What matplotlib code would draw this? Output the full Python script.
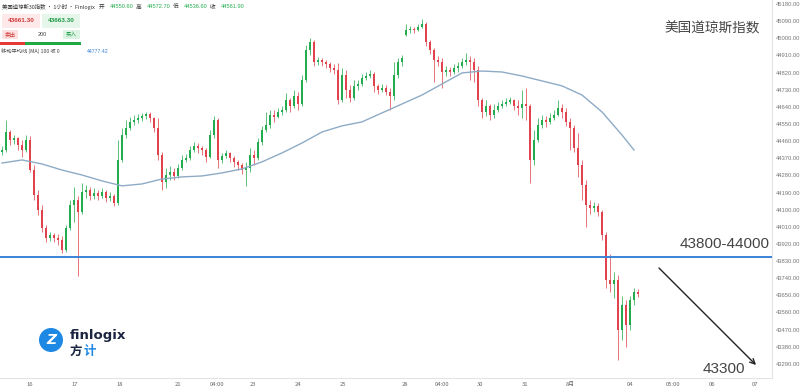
import numpy as np
import matplotlib
matplotlib.use("Agg")
import matplotlib.pyplot as plt
from matplotlib.patches import Rectangle, Ellipse

plt.rcParams['font.family'] = ['Liberation Sans', 'Noto Sans CJK SC', 'DejaVu Sans']

# hourly candles of the Dow (open = previous close)
closes = [44413, 44508, 44466, 44476, 44440, 44413, 44466, 44308, 44177, 44098,
          44004, 43952, 43967, 43952, 43941, 43889, 44004, 44125, 44151, 44088,
          44193, 44204, 44172, 44188, 44172, 44193, 44162, 44172, 44135, 44361,
          44492, 44529, 44561, 44571, 44582, 44592, 44603, 44582, 44529, 44387,
          44246, 44282, 44298, 44277, 44319, 44361, 44372, 44413, 44434, 44424,
          44413, 44377, 44492, 44571, 44361, 44382, 44398, 44372, 44351, 44335,
          44308, 44319, 44387, 44372, 44455, 44518, 44545, 44597, 44587, 44613,
          44624, 44676, 44645, 44697, 44655, 44781, 44939, 44981, 44876, 44886,
          44876, 44865, 44844, 44834, 44676, 44807, 44729, 44687, 44750, 44760,
          44792, 44802, 44813, 44750, 44729, 44739, 44718, 44697, 44807, 44876,
          44897, 45044, 45049, 45044, 45059, 45075, 44981, 44939, 44886, 44876,
          44823, 44834, 44823, 44844, 44855, 44876, 44886, 44876, 44834, 44676,
          44613, 44645, 44597, 44624, 44645, 44655, 44666, 44676, 44645, 44634,
          44655, 44645, 44361, 44466, 44545, 44571, 44561, 44582, 44597, 44634,
          44613, 44561, 44529, 44424, 44335, 44230, 44125, 44109, 44120, 44088,
          43967, 43731, 43710, 43731, 43469, 43600, 43495, 43626, 43668, 43658]
highs = [44434, 44571, 44518, 44492, 44482, 44466, 44492, 44487, 44335, 44203,
         44125, 44020, 43983, 43978, 43973, 43962, 44020, 44151, 44219, 44172,
         44240, 44230, 44219, 44214, 44204, 44214, 44204, 44193, 44183, 44466,
         44529, 44571, 44587, 44597, 44603, 44608, 44613, 44613, 44587, 44582,
         44403, 44319, 44330, 44319, 44340, 44387, 44393, 44434, 44455, 44450,
         44434, 44424, 44518, 44592, 44582, 44398, 44413, 44403, 44382, 44361,
         44345, 44351, 44424, 44413, 44476, 44540, 44613, 44624, 44624, 44634,
         44645, 44713, 44687, 44729, 44718, 44807, 44965, 45002, 44991, 44902,
         44897, 44886, 44876, 44865, 44870, 44844, 44834, 44755, 44781, 44781,
         44813, 44823, 44834, 44823, 44760, 44760, 44755, 44739, 44876, 44897,
         44912, 45075, 45065, 45059, 45075, 45101, 45086, 44991, 44949, 44907,
         44897, 44855, 44849, 44865, 44876, 44897, 44923, 44907, 44897, 44855,
         44687, 44676, 44655, 44655, 44666, 44676, 44687, 44692, 44681, 44676,
         44729, 44739, 44655, 44518, 44582, 44597, 44592, 44608, 44624, 44676,
         44655, 44634, 44582, 44545, 44503, 44361, 44256, 44151, 44141, 44135,
         44098, 43983, 43868, 43773, 43757, 43647, 43626, 43647, 43689, 43684]
lows = [44387, 44403, 44440, 44445, 44413, 44377, 44403, 44298, 44151, 44072,
        43983, 43931, 43936, 43931, 43915, 43873, 43878, 43994, 44036, 43752,
        44078, 44162, 44151, 44156, 44151, 44162, 44141, 44146, 44120, 44125,
        44350, 44476, 44518, 44545, 44555, 44566, 44576, 44561, 44508, 44361,
        44204, 44214, 44256, 44256, 44266, 44308, 44351, 44361, 44403, 44398,
        44387, 44351, 44372, 44476, 44319, 44345, 44372, 44351, 44324, 44308,
        44288, 44225, 44298, 44335, 44361, 44440, 44508, 44529, 44561, 44582,
        44597, 44613, 44613, 44634, 44624, 44645, 44771, 44912, 44855, 44860,
        44855, 44844, 44823, 44813, 44655, 44666, 44687, 44666, 44676, 44729,
        44750, 44781, 44792, 44718, 44708, 44718, 44702, 44624, 44676, 44792,
        44855, 45012, 45028, 45028, 45038, 45054, 44960, 44918, 44771, 44855,
        44739, 44802, 44802, 44813, 44823, 44844, 44860, 44781, 44771, 44645,
        44582, 44592, 44571, 44582, 44613, 44634, 44645, 44655, 44624, 44597,
        44582, 44571, 44240, 44335, 44455, 44529, 44534, 44550, 44571, 44592,
        44582, 44540, 44413, 44403, 44272, 44151, 44009, 44078, 44088, 44067,
        43941, 43689, 43668, 43637, 43311, 43416, 43379, 43469, 43600, 43642]
first_open = 44403
gap_opens = {101: 45017}   # weekend gap before the 28th

# 100-period moving average, sampled along the curve
ma_idx = [0, 5, 10, 15, 20, 25, 30, 35, 40, 45, 50, 55, 60, 65, 70, 75, 80,
          85, 90, 95, 100, 105, 110, 115, 120, 125, 130, 135, 140, 145, 150, 155, 158]
ma_vals = [44345, 44361, 44340, 44308, 44282, 44251, 44225, 44235, 44261, 44272,
           44277, 44293, 44314, 44351, 44398, 44450, 44508, 44540, 44561, 44608,
           44655, 44702, 44760, 44818, 44828, 44823, 44802, 44776, 44750, 44702,
           44613, 44492, 44413]

zone_level = 43852
arrow_from = (163.75, 43804)
arrow_to = (189, 43274)

x_tick_pos = [7, 18.25, 29.5, 44, 53.75, 62.75, 74, 85.25, 100.75, 110,
              119.5, 130.75, 142, 157, 167.75, 177.5, 188.25]
x_tick_labels = ["16", "17", "18", "21", "04:00", "23", "24", "25", "28", "04:00",
                 "30", "31", "8月", "04", "05:00", "06", "07"]
y_ticks = np.arange(43290, 45181, 90)

header_ohlc = [("开", "44550.60"), ("高", "44572.70"), ("低", "44536.60"), ("收", "44561.90")]
bid, ask = "43661.30", "43663.30"
ma_last = "44777.42"

UP = "#22ac4e"
DOWN = "#e0434c"
BLUE = "#3b82d6"
CJK = ['Noto Sans CJK SC', 'DejaVu Sans']

W, H = 800, 392
fig = plt.figure(figsize=(W / 100, H / 100), dpi=100)
ax = fig.add_axes([0, 14 / H, 772 / W, 378 / H])


def fx(x):
    return x / W


def fy(y):
    return 1 - y / H


# candles
closes_a = np.array(closes, dtype=float)
opens_a = np.concatenate([[first_open], closes_a[:-1]])
for k, v in gap_opens.items():
    opens_a[k] = v
idx = np.arange(len(closes_a))
up = closes_a >= opens_a
colors = np.where(up, UP, DOWN)
ax.vlines(idx, lows, highs, colors=colors, lw=0.7, alpha=0.75, zorder=2)
body_lo = np.minimum(opens_a, closes_a)
body_h = np.maximum(np.abs(closes_a - opens_a), 4)
ax.bar(idx, body_h, bottom=body_lo, width=0.62, color=colors, lw=0, zorder=3)

# moving average
ax.plot(ma_idx, ma_vals, color="#8eabc6", lw=1.0, zorder=4)

# resistance zone line + target arrow
ax.axhline(zone_level, color=BLUE, lw=1.4, zorder=5)
ax.annotate("", xy=arrow_to, xytext=arrow_from,
            arrowprops=dict(arrowstyle="->", color="#222222", lw=1.0,
                            mutation_scale=9))
ax.text(192, 43920, "43800-44000", ha="right", va="center", fontsize=11,
        color="#444444")
ax.text(185.75, 43262, "43300", ha="right", va="center", fontsize=11,
        color="#444444")

ax.set_xlim(-0.5, 192.5)
ax.set_ylim(43216, 45201)
ax.yaxis.tick_right()
ax.set_yticks(y_ticks)
ax.set_yticklabels([f"{v:.2f}" for v in y_ticks])
ax.set_xticks(x_tick_pos)
ax.set_xticklabels(x_tick_labels)
ax.tick_params(axis="y", length=0, pad=3, labelsize=4.2, labelcolor="#777777")
ax.tick_params(axis="x", length=0, pad=3, labelsize=4.2, labelcolor="#666666")
for t in ax.get_xticklabels():
    t.set_fontfamily(CJK)
for s in ["top", "left"]:
    ax.spines[s].set_visible(False)
for s in ["bottom", "right"]:
    ax.spines[s].set_color("#e4e4e4")
    ax.spines[s].set_linewidth(0.8)

# title on the right
fig.text(fx(760), fy(28), "美国道琼斯指数", ha="right", va="center", fontsize=9.8,
         color="#444444", family=CJK)

# header line
fig.text(fx(2), fy(7), "美国道琼斯30指数 · 1小时 · Finlogix", ha="left", va="center",
         fontsize=3.9, color="#333333", family=CJK)
hx = 99
for lab, val in header_ohlc:
    fig.text(fx(hx), fy(7), lab, ha="left", va="center", fontsize=4.1,
             color="#333333", family=CJK)
    fig.text(fx(hx + 11), fy(7), val, ha="left", va="center", fontsize=4.1,
             color=UP)
    hx += 37


def box(x0, y0, x1, y1, color):
    fig.add_artist(Rectangle((fx(x0), fy(y1)), (x1 - x0) / W, (y1 - y0) / H,
                             transform=fig.transFigure, color=color, lw=0))


box(2, 14, 40, 28, "#fde9e9")
box(42, 14, 80, 28, "#e6f6ea")
fig.text(fx(21), fy(21), bid, ha="center", va="center", fontsize=4.6,
         color="#d23a3a", weight="bold")
fig.text(fx(61), fy(21), ask, ha="center", va="center", fontsize=4.6,
         color="#1f9a46", weight="bold")
box(2, 30, 18, 39, "#fde0e0")
box(63, 30, 80, 39, "#ddf3e3")
fig.text(fx(10), fy(34.5), "卖出", ha="center", va="center", fontsize=4,
         color="#d23a3a", family=CJK)
fig.text(fx(42), fy(34.5), "200", ha="center", va="center", fontsize=4,
         color="#444444")
fig.text(fx(71.5), fy(34.5), "买入", ha="center", va="center", fontsize=4,
         color="#1f9a46", family=CJK)
box(0, 42, 25, 45, "#e53935")
box(25, 42, 81, 45, "#1faa45")
fig.text(fx(1), fy(51.5), "移动平均线 (MA) 100 收 0", ha="left", va="center",
         fontsize=3.8, color="#444444", family=CJK)
fig.text(fx(87), fy(51.5), ma_last, ha="left", va="center", fontsize=3.8,
         color=BLUE)

# logo
fig.add_artist(Ellipse((fx(51), fy(340)), 24 / W, 24 / H,
                       transform=fig.transFigure, color="#1e88e5", lw=0))
fig.text(fx(51), fy(340), "Z", ha="center", va="center", fontsize=10,
         color="white", weight="bold", style="italic", family="DejaVu Sans")
fig.text(fx(70), fy(335), "finlogix", ha="left", va="center", fontsize=9.5,
         color="#1b2440", weight="bold", family="DejaVu Sans")
fig.text(fx(70), fy(351), "方", ha="left", va="center", fontsize=9,
         color="#1b2440", weight="bold", family=CJK)
fig.text(fx(84), fy(351), "计", ha="left", va="center", fontsize=9,
         color="#1e88e5", weight="bold", family=CJK)

fig.savefig("out.png", dpi=100)
